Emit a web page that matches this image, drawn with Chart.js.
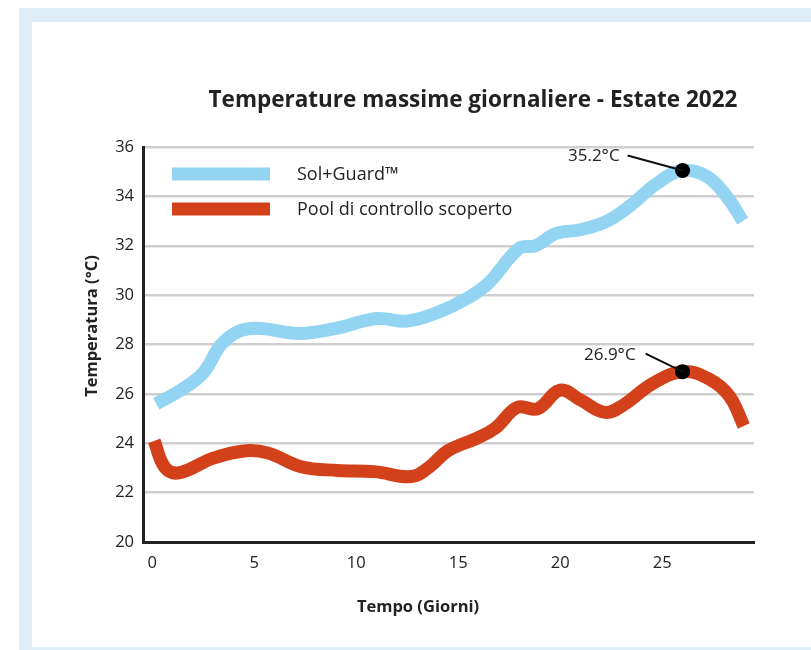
<!DOCTYPE html>
<html>
<head>
<meta charset="utf-8">
<script src="https://cdn.jsdelivr.net/npm/chart.js@4"></script>
<style>
  body { margin: 0; background: #fff; }
  .frame { position: absolute; left: 19px; top: 8px; width: 792px; height: 642px; background: #deedf6; }
  .inner { position: absolute; left: 32px; top: 22px; width: 779px; height: 625px; background: #fff; }
  #myChart { position: absolute; left: 0; top: 0; }
</style>
</head>
<body>
<div class="frame"></div>
<div class="inner"></div>
<canvas id="myChart" width="811" height="650"></canvas>
<script>
var FONT = "'Open Sans', 'Noto Sans', sans-serif";

// days / temperatures
var solDays = [0.2, 1.4, 2.5, 3.5, 4.8, 7.2, 9.0, 11.0, 12.5, 14.0, 15.5, 16.5, 18.0, 18.8, 19.8, 21.0, 22.3, 23.4, 24.7, 26.0, 27.2, 28.2, 28.95];
var solTemps = [25.6, 26.15, 26.85, 28.1, 28.65, 28.45, 28.65, 29.05, 28.95, 29.3, 29.9, 30.5, 31.9, 32.0, 32.5, 32.65, 33.0, 33.6, 34.5, 35.05, 34.8, 33.95, 33.0];

var poolDays = [0.1, 0.6, 1.3, 3.0, 4.6, 5.7, 7.3, 9.1, 10.9, 12.7, 13.6, 14.5, 15.9, 16.8, 17.9, 18.9, 20.0, 21.0, 22.2, 23.1, 24.5, 26.0, 27.3, 28.3, 29.0];
var poolTemps = [24.1, 23.05, 22.8, 23.4, 23.7, 23.6, 23.05, 22.9, 22.85, 22.65, 23.05, 23.7, 24.2, 24.6, 25.45, 25.4, 26.15, 25.75, 25.25, 25.55, 26.4, 26.9, 26.6, 25.9, 24.7];

var peakDays = [26.0, 26.0];
var peakTemps = [35.05, 26.9];
var peakLabels = ["35.2°C", "26.9°C"];

var xTicks = [0, 5, 10, 15, 20, 25];
var yTicks = [20, 22, 24, 26, 28, 30, 32, 34, 36];

var seriesNames = ["Sol+Guard™", "Pool di controllo scoperto"];
var seriesColors = ["#93d4f3", "#d3411a"];

function pts(xs, ys) {
  return xs.map(function (x, i) { return { x: x, y: ys[i] }; });
}

var overlay = {
  id: 'overlay',
  afterDatasetsDraw: function (chart) {
    var c = chart.ctx;
    var xs = chart.scales.x, ys = chart.scales.y;
    c.save();
    c.fillStyle = '#222';
    c.textBaseline = 'middle';

    // title
    c.font = "bold 22.5px " + FONT;
    c.textAlign = 'center';
    c.fillText("Temperature massime giornaliere - Estate 2022", 473, 101);

    // axis titles
    c.font = "bold 16.5px " + FONT;
    c.fillText("Tempo (Giorni)", 418, 607);
    c.save();
    c.translate(92, 326);
    c.rotate(-Math.PI / 2);
    c.fillText("Temperatura (°C)", 0, 0);
    c.restore();

    // legend
    c.font = "18px " + FONT;
    c.textAlign = 'left';
    var rows = [174, 209];
    for (var i = 0; i < 2; i++) {
      c.fillStyle = seriesColors[i];
      c.fillRect(172, rows[i] - 6.5, 98, 13);
      c.fillStyle = '#222';
      c.fillText(seriesNames[i], 297, rows[i] + 1);
    }

    // callouts
    var lineOff = [[-55, -15], [-37, -18]];
    var textOff = [[-63, -14], [-47, -17]];
    c.font = "17px " + FONT;
    c.strokeStyle = '#111';
    c.lineWidth = 2;
    c.textAlign = 'right';
    for (var j = 0; j < peakDays.length; j++) {
      var px = xs.getPixelForValue(peakDays[j]);
      var py = ys.getPixelForValue(peakTemps[j]);
      c.beginPath();
      c.moveTo(px + lineOff[j][0], py + lineOff[j][1]);
      c.lineTo(px, py);
      c.stroke();
      c.fillText(peakLabels[j], px + textOff[j][0], py + textOff[j][1]);
    }
    c.restore();
  }
};

var ctx = document.getElementById("myChart");
var chart_params = {
  type: 'scatter',
  data: {
    datasets: [{
      label: "Picchi",
      data: pts(peakDays, peakTemps),
      showLine: false,
      pointRadius: 7.5,
      pointBackgroundColor: '#000',
      pointBorderWidth: 0,
      order: 0
    }, {
      label: seriesNames[0],
      data: pts(solDays, solTemps),
      showLine: true,
      borderColor: seriesColors[0],
      borderWidth: 13,
      borderCapStyle: 'butt',
      borderJoinStyle: 'round',
      tension: 0.4,
      pointRadius: 0,
      order: 1
    }, {
      label: seriesNames[1],
      data: pts(poolDays, poolTemps),
      showLine: true,
      borderColor: seriesColors[1],
      borderWidth: 13,
      borderCapStyle: 'butt',
      borderJoinStyle: 'round',
      tension: 0.4,
      pointRadius: 0,
      order: 2
    }]
  },
  options: {
    responsive: false,
    animation: false,
    layout: {
      padding: { top: 147, left: 0, right: 57, bottom: 68 }
    },
    plugins: {
      legend: { display: false },
      title: { display: false },
      tooltip: { enabled: false }
    },
    scales: {
      x: {
        type: 'linear',
        min: -0.45,
        max: 29.5,
        afterBuildTicks: function (s) { s.ticks = xTicks.map(function (v) { return { value: v }; }); },
        afterFit: function (s) { s.height = 40; },
        grid: { display: false, drawTicks: false },
        border: { color: '#222', width: 3 },
        ticks: {
          color: '#222',
          padding: 11,
          maxRotation: 0,
          font: { family: FONT, size: 16.5 }
        }
      },
      y: {
        min: 20,
        max: 36,
        afterBuildTicks: function (s) { s.ticks = yTicks.map(function (v) { return { value: v }; }); },
        afterFit: function (s) { s.width = 143; },
        grid: { color: '#cfcfcf', lineWidth: 2.5, drawTicks: false },
        border: { color: '#222', width: 3 },
        ticks: {
          color: '#222',
          padding: 9,
          font: { family: FONT, size: 16.5 }
        }
      }
    }
  },
  plugins: [overlay]
};
var myChart = new Chart(ctx, chart_params);
</script>
</body>
</html>
